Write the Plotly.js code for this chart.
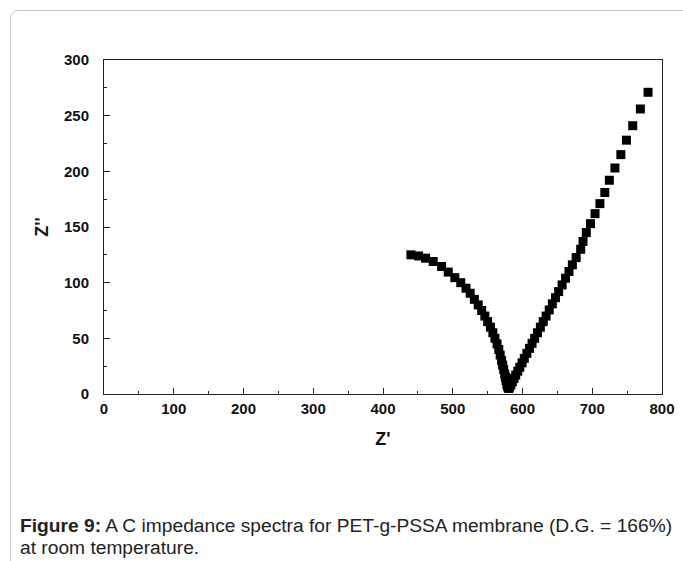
<!DOCTYPE html>
<html>
<head>
<meta charset="utf-8">
<script src="https://cdn.plot.ly/plotly-3.0.1.min.js"></script>
<style>
  html, body { margin: 0; padding: 0; background: #fff; }
  #wrap { position: relative; width: 683px; height: 561px; overflow: hidden; }
  #frame { position: absolute; left: 10px; top: 10px; width: 720px; height: 600px;
           border: 1px solid #c8c8c8; border-radius: 8px; box-sizing: border-box; }
  #chart { position: absolute; left: 0; top: 0; width: 683px; height: 561px; }
</style>
</head>
<body>
<div id="wrap">
  <div id="frame"></div>
  <div id="chart"></div>
</div>
<script>
// Z' (real part) values
const zReal = [
  440, 451, 461, 472, 484, 493.5, 503, 511.5, 519, 525, 531, 536.5, 541.5, 546,
  550, 554, 557.5, 560.5, 563.5, 566, 568, 570, 571.5, 573, 574.5, 575.5, 576.5,
  577.5, 578.5, 579.5,
  580.5, 581.7, 583.4, 585.4, 587.9, 590.3, 593.2, 596.1, 599.4, 602.6, 606.3,
  610, 613.7, 617.4, 621.5, 625.6, 629.7, 633.8, 638.3, 642.8, 647.3, 651.8,
  656.8, 661.7, 666.6, 671.5, 676.9, 683.4, 686.8, 691.5, 697.5, 704, 711, 718, 724.5,
  732.5, 741, 749, 758, 769, 780
];
// Z'' (imaginary part) values
const zImag = [
  125, 124, 122, 119, 114.5, 109.5, 104.5, 100, 95, 90.5, 85, 80, 75, 70,
  65, 60, 55, 50, 45, 40, 35, 30, 26, 22, 18, 15, 12,
  9, 7, 5.5,
  5, 6.5, 8.5, 11, 14, 17, 20.5, 24, 28, 32, 36.5,
  41, 45.5, 50, 55, 60, 65, 70, 75.5, 81, 86.5, 92,
  98, 104, 110, 116, 122.5, 130, 137, 145, 153, 162, 171, 181, 192,
  203, 215, 228, 241, 256, 271
];
const xTicks = [0, 100, 200, 300, 400, 500, 600, 700, 800];
const yTicks = [0, 50, 100, 150, 200, 250, 300];
const xTitle = "Z'";
const yTitle = "Z''";
const captionBold = "Figure 9:";
const captionLine1 = " A C impedance spectra for PET-g-PSSA membrane (D.G. = 166%)";
const captionLine2 = "at room temperature.";

const W = 683, H = 561;
const m = { l: 104, r: 21, t: 60, b: 167 };
const pw = W - m.l - m.r, ph = H - m.t - m.b;
const px = (p) => (p - m.l) / pw;
const py = (p) => (H - m.b - p) / ph;
const FONT = 'Liberation Sans, Arial, sans-serif';

const axisCommon = {
  showgrid: false, zeroline: false, showline: true, mirror: true,
  linecolor: '#222', linewidth: 1,
  ticks: 'inside', ticklen: 6, tickwidth: 1, tickcolor: '#222',
  tickfont: { family: FONT, size: 15, color: '#111', weight: 'bold' },
  minor: { ticks: 'inside', ticklen: 3, tickwidth: 1, tickcolor: '#222' }
};

const data = [{
  type: 'scatter', mode: 'markers', x: zReal, y: zImag,
  marker: { symbol: 'square', size: 9, color: '#000', line: { width: 0 } },
  hoverinfo: 'x+y', showlegend: false
}];

const layout = {
  width: W, height: H, margin: m,
  paper_bgcolor: 'rgba(0,0,0,0)', plot_bgcolor: '#fff',
  font: { family: FONT, color: '#111' },
  xaxis: Object.assign({}, axisCommon, {
    range: [0, 800], tickvals: xTicks, ticktext: xTicks.map(String),
    ticklabelstandoff: 1,
    minor: Object.assign({}, axisCommon.minor, { dtick: 50, tick0: 0 }),
    title: { text: xTitle, font: { size: 18, weight: 'bold', family: FONT }, standoff: 16 }
  }),
  yaxis: Object.assign({}, axisCommon, {
    range: [0, 300], tickvals: yTicks, ticktext: yTicks.map(String),
    ticklabelstandoff: 11,
    minor: Object.assign({}, axisCommon.minor, { dtick: 25, tick0: 0 }),
    title: { text: yTitle, font: { size: 18, weight: 'bold', family: FONT }, standoff: 10 }
  }),
  annotations: [
    { xref: 'paper', yref: 'paper', x: px(18), y: py(525), xanchor: 'left', yanchor: 'middle',
      showarrow: false, align: 'left',
      text: '<b>' + captionBold + '</b>' + captionLine1,
      font: { size: 19.2, color: '#222', family: FONT } },
    { xref: 'paper', yref: 'paper', x: px(18), y: py(547), xanchor: 'left', yanchor: 'middle',
      showarrow: false, align: 'left', text: captionLine2,
      font: { size: 19.2, color: '#222', family: FONT } }
  ]
};

Plotly.newPlot('chart', data, layout, { displayModeBar: false, staticPlot: true });
</script>
</body>
</html>
